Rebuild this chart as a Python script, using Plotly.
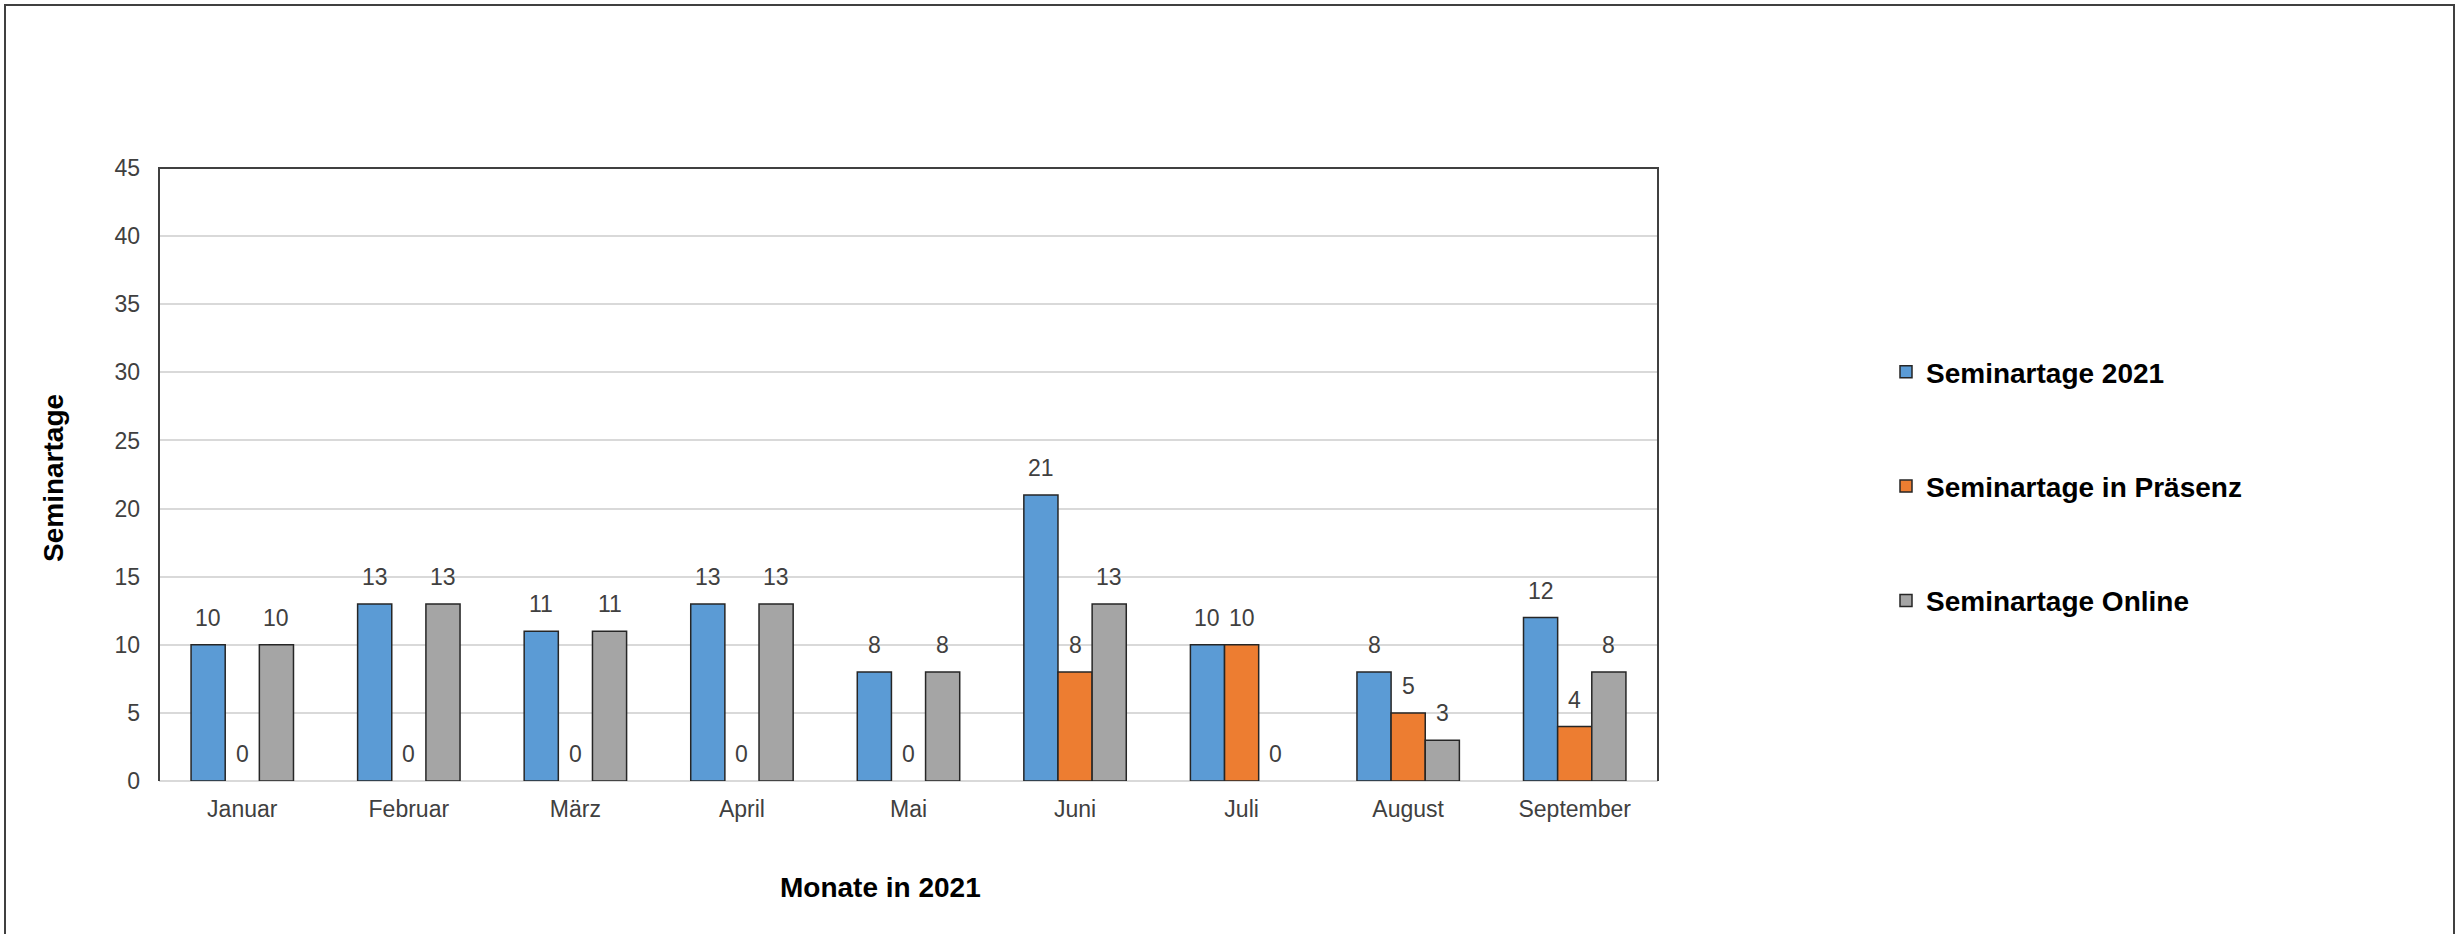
import plotly.graph_objects as go

# Data
months = ["Januar", "Februar", "März", "April", "Mai", "Juni", "Juli", "August", "September"]
seminartage_2021 = [10, 13, 11, 13, 8, 21, 10, 8, 12]
seminartage_praesenz = [0, 0, 0, 0, 0, 8, 10, 5, 4]
seminartage_online = [10, 13, 11, 13, 8, 13, 0, 3, 8]

series_names = ["Seminartage 2021", "Seminartage in Präsenz", "Seminartage Online"]
series_values = [seminartage_2021, seminartage_praesenz, seminartage_online]
colors = ["#5B9BD5", "#ED7D31", "#A5A5A5"]

FONT = "Liberation Sans, Arial, sans-serif"
W, H = 2458, 934
M_L, M_R, M_T, M_B = 159, 800, 168, 153
plot_w = W - M_L - M_R
plot_h = H - M_T - M_B
BARGAP = 0.385
bar_px = plot_w / len(months) * (1 - BARGAP) / 3


def px_x(p):
    return (p - M_L) / plot_w


def px_y(p):
    return (H - M_B - p) / plot_h


fig = go.Figure()

for i, (name, vals) in enumerate(zip(series_names, series_values)):
    # empty months get no bar at all (only the "0" label), so no outline stub on the axis
    fig.add_trace(go.Bar(
        x=months, y=[v if v > 0 else None for v in vals],
        name=name,
        marker=dict(color=colors[i], line=dict(color="#262626", width=1.5)),
        legendgroup=name,
    ))

# data labels above each bar
annotations = []
for i, vals in enumerate(series_values):
    for m, v in zip(months, vals):
        annotations.append(dict(
            x=m, y=v, xref="x", yref="y",
            text=str(v), showarrow=False,
            xshift=(i - 1) * bar_px, yshift=27,
            font=dict(family=FONT, size=23, color="#404040"),
            xanchor="center", yanchor="middle",
        ))

# axis titles
annotations.append(dict(
    x=px_x(880), y=px_y(887), xref="paper", yref="paper",
    text="<b>Monate in 2021</b>", showarrow=False,
    font=dict(family=FONT, size=28, color="#000000"),
    xanchor="center", yanchor="middle",
))
annotations.append(dict(
    x=px_x(53), y=px_y(478), xref="paper", yref="paper",
    text="<b>Seminartage</b>", showarrow=False, textangle=-90,
    font=dict(family=FONT, size=28, color="#000000"),
    xanchor="center", yanchor="middle",
))

shapes = [
    # plot area frame (left, top, right)
    dict(type="path", xref="paper", yref="paper",
         path="M 0,0 L 0,1 L 1,1 L 1,0",
         line=dict(color="#404040", width=2), layer="above"),
    # outer chart border
    dict(type="rect", xref="paper", yref="paper",
         x0=px_x(5), x1=px_x(2454), y0=px_y(945), y1=px_y(5),
         line=dict(color="#404040", width=2), layer="above"),
]

fig.update_layout(
    width=W, height=H,
    autosize=False,
    margin=dict(l=M_L, r=M_R, t=M_T, b=M_B),
    paper_bgcolor="white",
    plot_bgcolor="white",
    barmode="group",
    bargap=BARGAP,
    bargroupgap=0,
    font=dict(family=FONT, size=23, color="#404040"),
    annotations=annotations,
    shapes=shapes,
    showlegend=True,
    legend=dict(
        x=px_x(1886), y=px_y(347),
        xanchor="left", yanchor="top",
        font=dict(family=FONT, size=28, color="#000000", weight="bold"),
        tracegroupgap=75,
        bgcolor="rgba(0,0,0,0)",
        itemwidth=30,
    ),
)

fig.update_xaxes(
    showgrid=False,
    showline=False,
    ticks="",
    ticklabelstandoff=12,
    tickfont=dict(family=FONT, size=23, color="#404040"),
)
fig.update_yaxes(
    range=[0, 45],
    dtick=5,
    showgrid=True,
    gridcolor="#D9D9D9",
    gridwidth=1.5,
    zeroline=True,
    zerolinecolor="#D9D9D9",
    zerolinewidth=1.5,
    showline=False,
    ticks="",
    ticklabelstandoff=18,
    tickfont=dict(family=FONT, size=23, color="#404040"),
)

# drop the default page margin so the figure sits at the window origin
fig.write_html(
    "out.html",
    config={"displayModeBar": False},
    post_script="document.body.style.margin='0';",
)
